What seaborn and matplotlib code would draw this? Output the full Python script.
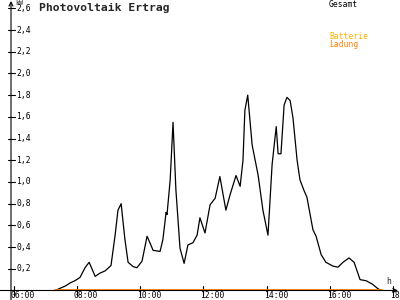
import matplotlib
matplotlib.use('Agg')
import matplotlib.pyplot as plt
import seaborn as sns
import pandas as pd

# time of day in hours, and output in kW
zeit = [7.31, 7.47, 7.63, 7.79, 7.94, 8.10, 8.26, 8.39, 8.58, 8.73, 8.89, 9.08,
        9.21, 9.30, 9.40, 9.52, 9.62, 9.78, 9.90, 10.06, 10.22, 10.31, 10.41,
        10.63, 10.72, 10.82, 10.85, 10.95, 11.04, 11.13, 11.26, 11.39, 11.51,
        11.67, 11.80, 11.89, 12.05, 12.21, 12.37, 12.52, 12.71, 12.84, 13.03,
        13.16, 13.25, 13.31, 13.40, 13.54, 13.73, 13.88, 14.04, 14.17, 14.30,
        14.36, 14.45, 14.55, 14.64, 14.74, 14.83, 14.96, 15.05, 15.18, 15.27,
        15.46, 15.56, 15.72, 15.87, 16.09, 16.25, 16.41, 16.60, 16.76, 16.95,
        17.14, 17.33, 17.52, 17.64]
gesamt = [0.00, 0.02, 0.04, 0.07, 0.09, 0.12, 0.21, 0.26, 0.13, 0.16, 0.18, 0.23,
          0.51, 0.74, 0.80, 0.47, 0.26, 0.22, 0.21, 0.27, 0.50, 0.44, 0.37,
          0.36, 0.47, 0.72, 0.70, 1.02, 1.55, 0.93, 0.39, 0.25, 0.42,
          0.44, 0.51, 0.67, 0.53, 0.79, 0.85, 1.05, 0.74, 0.88, 1.06,
          0.96, 1.20, 1.66, 1.80, 1.34, 1.06, 0.74, 0.51, 1.16, 1.51,
          1.26, 1.26, 1.71, 1.78, 1.75, 1.59, 1.20, 1.02, 0.92, 0.86,
          0.56, 0.50, 0.33, 0.26, 0.225, 0.215, 0.26, 0.30, 0.26, 0.10,
          0.09, 0.06, 0.015, 0.00]
ladung = [0.0] * len(zeit)

y_ticks = [0.2, 0.4, 0.6, 0.8, 1.0, 1.2, 1.4, 1.6, 1.8, 2.0, 2.2, 2.4, 2.6]
x_ticks = [6, 8, 10, 12, 14, 16, 18]
x_labels = ["06:00", "08:00", "10:00", "12:00", "14:00", "16:00", "18:00"]

df = pd.DataFrame({"zeit": zeit, "Gesamt": gesamt, "Ladung": ladung})

sns.set_style("white")
plt.rcParams['font.family'] = ['DejaVu Sans Mono']

fig = plt.figure(figsize=(4, 3), dpi=100)
ax = fig.add_axes([0, 0, 1, 1])
ax.set_xlim(5.573, 18.211)
ax.set_ylim(-0.0876, 2.677)
ax.axis('off')

def px(x):
    return 5.573 + x / 31.65

def py(y):
    return 2.677 - y / 108.5

# axes with arrows
ax.annotate("", xy=(px(398), 0), xytext=(px(0), 0),
            arrowprops=dict(arrowstyle='->', color='black', lw=0.8,
                            shrinkA=0, shrinkB=0, mutation_scale=7))
ax.annotate("", xy=(px(11), py(1)), xytext=(px(11), py(300)),
            arrowprops=dict(arrowstyle='->', color='black', lw=0.8,
                            shrinkA=0, shrinkB=0, mutation_scale=7))

for v in y_ticks:
    ax.plot([px(8), px(14.5)], [v, v], color='black', lw=0.8)
    ax.text(px(16), v, f"{v:.1f}".replace('.', ','), fontsize=5.8,
            ha='left', va='center', color='black')
for h, lab in zip(x_ticks, x_labels):
    ax.plot([h, h], [py(286), py(295)], color='black', lw=0.8)
    ax.text(h - 3 / 31.65, py(295.5), lab, fontsize=5.8,
            ha='left', va='center', color='black')

sns.lineplot(data=df, x="zeit", y="Gesamt", ax=ax, color='black',
             lw=0.9, legend=False)
sns.lineplot(data=df, x="zeit", y="Ladung", ax=ax, color='#ff8000',
             lw=1.3, legend=False)
ax.axis('off')

ax.text(px(15), py(3), "kW", fontsize=4.8, ha='left', va='center')
ax.text(px(386), py(281), "h", fontsize=5.8, ha='left', va='center')
ax.text(px(39), py(7.5), "Photovoltaik Ertrag", fontsize=8.2,
        fontweight='bold', ha='left', va='center')
ax.text(px(329), py(4.5), "Gesamt", fontsize=5.8, ha='left', va='center',
        color='black')
ax.text(px(329), py(36.5), "Batterie", fontsize=5.8, ha='left', va='center',
        color='#ffb000')
ax.text(px(329), py(44.5), "Ladung", fontsize=5.8, ha='left', va='center',
        color='#ff8000')

fig.savefig("out.png", dpi=100)
